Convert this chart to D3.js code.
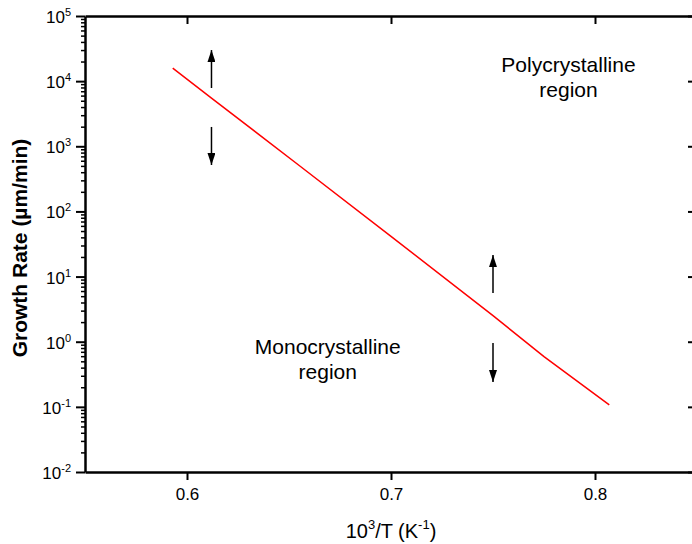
<!DOCTYPE html>
<html>
<head>
<meta charset="utf-8">
<script src="https://cdn.jsdelivr.net/npm/d3@7"></script>
<style>
    body { margin: 0; background: #fff; }
    text { font-family: "Liberation Sans", Arial, sans-serif; fill: #000; }
</style>
</head>
<body>
<div id="chart"></div>
<script>
// growth rate vs inverse temperature
const invTemp    = [0.593, 0.612, 0.655, 0.700, 0.750, 0.775, 0.807];
const growthRate = [15800, 5500, 507, 41.5, 2.51, 0.59, 0.107];

const xTicks = [0.6, 0.7, 0.8];
const yTickExps = [-2, -1, 0, 1, 2, 3, 4, 5];

// arrows: x position, tail value, tip value
const arrowX    = [0.612, 0.612, 0.75, 0.75];
const arrowFrom = [7850, 1980, 5.6, 0.955];
const arrowTo   = [30000, 516, 21.4, 0.24];

const regionLabels = [
    { lines: ["Polycrystalline", "region"], x: 0.787, y: 13800 },
    { lines: ["Monocrystalline", "region"], x: 0.669, y: 0.65 }
];

const width = 692;
const height = 544;
const margin = { top: 16, right: -5, bottom: 72, left: 85 };

const svg = d3.select("#chart")
    .append("svg")
    .attr("width", width)
    .attr("height", height);

const xScale = d3.scaleLinear()
    .domain([0.55, 0.85])
    .range([margin.left, width - margin.right]);

const yScale = d3.scaleLog()
    .domain([1e-2, 1e5])
    .range([height - margin.bottom, margin.top]);

const x0 = xScale.range()[0], x1 = xScale.range()[1];
const yB = yScale.range()[0], yT = yScale.range()[1];

// minor ticks for left axis
const minorVals = [];
yTickExps.slice(0, -1).forEach(e => {
    for (let k = 2; k <= 9; k++) minorVals.push(k * Math.pow(10, e));
});

//Bottom axis
svg.append("g")
    .attr("transform", `translate(0, ${yB})`)
    .call(d3.axisBottom(xScale).tickValues(xTicks).tickSize(8).tickSizeOuter(0).tickFormat(d3.format(".1f")))
    .call(g => g.select(".domain").attr("stroke-width", 2.5))
    .call(g => g.selectAll(".tick line").attr("stroke-width", 2))
    .call(g => g.selectAll(".tick text").attr("y", 16).attr("font-size", "17px").attr("font-family", null));

//Top axis (inward ticks)
svg.append("g")
    .attr("transform", `translate(0, ${yT})`)
    .call(d3.axisTop(xScale).tickValues(xTicks).tickSize(-8).tickSizeOuter(0).tickFormat(""))
    .call(g => g.select(".domain").attr("stroke-width", 2.5))
    .call(g => g.selectAll(".tick line").attr("stroke-width", 2));

//Left axis
const leftAxis = svg.append("g")
    .attr("transform", `translate(${x0}, 0)`);

leftAxis.append("g")
    .call(d3.axisLeft(yScale).tickValues(minorVals).tickSize(4).tickSizeOuter(0).tickFormat(""))
    .call(g => g.select(".domain").remove())
    .call(g => g.selectAll(".tick line").attr("stroke-width", 1.5));

leftAxis.append("g")
    .call(d3.axisLeft(yScale).tickValues(yTickExps.map(e => Math.pow(10, e))).tickSize(9).tickSizeOuter(0).tickFormat(""))
    .call(g => g.select(".domain").attr("stroke-width", 2.5))
    .call(g => g.selectAll(".tick line").attr("stroke-width", 2));

//Right axis (inward ticks)
svg.append("g")
    .attr("transform", `translate(${x1}, 0)`)
    .call(d3.axisRight(yScale).tickValues(yTickExps.map(e => Math.pow(10, e))).tickSize(-9).tickSizeOuter(0).tickFormat(""))
    .call(g => g.select(".domain").attr("stroke-width", 2.5))
    .call(g => g.selectAll(".tick line").attr("stroke-width", 2));

// y tick labels as 10^n
const yLabels = svg.append("g")
    .selectAll("text")
    .data(yTickExps)
    .join("text")
        .attr("x", 71)
        .attr("y", d => yScale(Math.pow(10, d)) + 7)
        .attr("text-anchor", "end")
        .attr("font-size", "17px");

yLabels.append("tspan").text("10");
yLabels.append("tspan")
    .text(d => d < 0 ? "-" + Math.abs(d) : d)
    .attr("font-size", "11px")
    .attr("dy", -7);

// axis titles
const xTitle = svg.append("text")
    .attr("x", xScale(0.7))
    .attr("y", 538)
    .attr("text-anchor", "middle")
    .attr("font-size", "20px");
xTitle.append("tspan").text("10");
xTitle.append("tspan").text("3").attr("font-size", "13px").attr("dy", -9);
xTitle.append("tspan").text("/T (K").attr("dy", 9);
xTitle.append("tspan").text("-1").attr("font-size", "13px").attr("dy", -9);
xTitle.append("tspan").text(")").attr("dy", 9);

svg.append("text")
    .text("Growth Rate (µm/min)")
    .attr("transform", `translate(27, ${(yT + yB) / 2 + 4}) rotate(-90)`)
    .attr("text-anchor", "middle")
    .attr("font-size", "21px")
    .attr("font-weight", "bold");

// data line
const lineGenerator = d3.line()
    .x(d => xScale(d[0]))
    .y(d => yScale(d[1]));

svg.append("path")
    .attr("d", lineGenerator(d3.zip(invTemp, growthRate)))
    .attr("fill", "none")
    .attr("stroke", "#ff0000")
    .attr("stroke-width", 1.5);

// arrows
svg.append("defs")
    .append("marker")
    .attr("id", "head")
    .attr("viewBox", "0 0 12 8")
    .attr("refX", 12)
    .attr("refY", 4)
    .attr("markerWidth", 12)
    .attr("markerHeight", 8)
    .attr("markerUnits", "userSpaceOnUse")
    .attr("orient", "auto")
    .append("path")
    .attr("d", "M0,0 L12,4 L0,8 Z")
    .attr("fill", "#000");

svg.append("g")
    .selectAll("line")
    .data(arrowX)
    .join("line")
        .attr("x1", d => xScale(d))
        .attr("x2", d => xScale(d))
        .attr("y1", (d, i) => yScale(arrowFrom[i]))
        .attr("y2", (d, i) => yScale(arrowTo[i]))
        .attr("stroke", "#000")
        .attr("stroke-width", 1.5)
        .attr("marker-end", "url(#head)");

// region labels
regionLabels.forEach(r => {
    const t = svg.append("text")
        .attr("x", xScale(r.x))
        .attr("y", yScale(r.y))
        .attr("text-anchor", "middle")
        .attr("font-size", "21px");
    r.lines.forEach((line, i) => {
        t.append("tspan")
            .text(line)
            .attr("x", xScale(r.x))
            .attr("dy", i === 0 ? 0 : 25);
    });
});
</script>
</body>
</html>
